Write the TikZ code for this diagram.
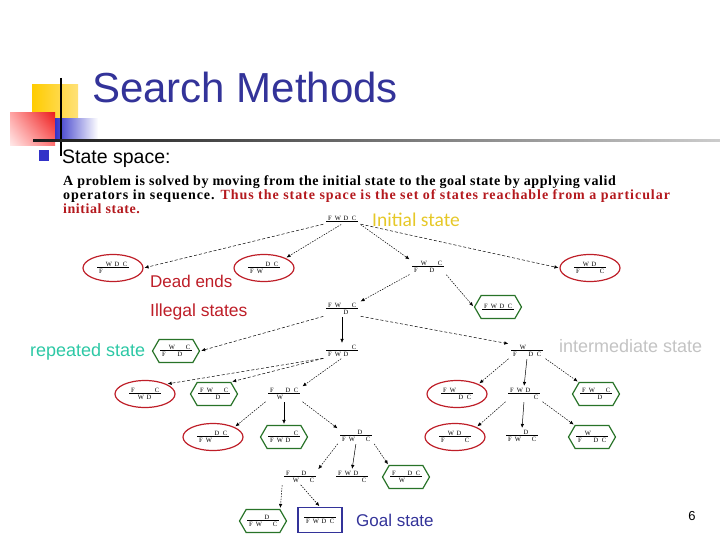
\documentclass[tikz,border=0pt]{standalone}
\usepackage{fontspec}
\setmainfont{Liberation Serif}
\setsansfont{Liberation Sans}
\newfontfamily\calib{Carlito}
\newfontfamily\parafont[LetterSpace=4]{Liberation Serif}
\newfontfamily\parafontb[LetterSpace=6.8]{Liberation Serif}
\usetikzlibrary{shapes.geometric,shapes.symbols,arrows.meta,shadings}
\definecolor{titleblue}{RGB}{51,51,153}
\definecolor{deadred}{RGB}{190,30,40}
\definecolor{hexgreen}{RGB}{40,115,40}
\definecolor{txtred}{RGB}{180,25,30}
\definecolor{goldy}{RGB}{230,200,40}
\definecolor{tealc}{RGB}{45,200,165}
\definecolor{lgray}{RGB}{195,195,195}
\definecolor{sqyel}{RGB}{255,204,0}
\definecolor{sqyel2}{RGB}{255,225,120}
\definecolor{sqred}{RGB}{235,30,30}
\definecolor{sqblue}{RGB}{50,50,200}
\newcommand{\slotb}[1]{\makebox[8pt]{#1}}
\newcommand{\fwdc}[8]{\vbox{\hbox{\slotb{#1}\slotb{#2}\slotb{#3}\slotb{#4}}\kern0.4pt\hrule height 0.9pt\kern0.8pt\hbox{\slotb{#5}\slotb{#6}\slotb{#7}\slotb{#8}}}}
\tikzset{
 st/.style={font=\fontsize{6.5}{6.5}\selectfont, inner sep=1.5pt},
 dead/.style={st, ellipse, draw=deadred, line width=1.2pt, minimum width=60pt, minimum height=27pt, inner sep=0pt},
 rep/.style={st, signal, signal to=west and east, signal pointer angle=120, draw=hexgreen, line width=1.2pt, minimum width=47pt, minimum height=23pt, inner sep=0pt},
 goalbox/.style={st, draw=titleblue, line width=1.2pt, minimum width=44pt, minimum height=25pt},
 arr/.style={-{Latex[length=4pt,width=3.5pt]}, line width=0.5pt, shorten >=1pt, shorten <=1pt},
 dsh/.style={arr, dash pattern=on 3pt off 2pt},
 dtt/.style={arr, dash pattern=on 1.5pt off 1.2pt},
 lab/.style={font=\sffamily\fontsize{17}{18}\selectfont, anchor=west, inner sep=0pt},
 para/.style={anchor=base west, inner sep=0pt, font=\parafont\bfseries\fontsize{14}{15}\selectfont},
}
\begin{document}
\begin{tikzpicture}[x=1pt,y=-1pt]
\useasboundingbox (0,0) rectangle (720,540);
% decoration
\shade[left color=sqyel, right color=sqyel2] (32,85) rectangle (78,118);
\shade[upper left=red!35, upper right=sqred, lower left=red!8, lower right=red!55] (10,113) rectangle (55,146);
\shade[left color=sqblue, right color=white] (55,119) rectangle (98,141);
\draw[line width=1.5pt] (61,78) -- (61,156);
\shade[left color=black!90, right color=black!20] (33,140) rectangle (720,142);
\node[anchor=base west, inner sep=0pt, font=\sffamily\fontsize{42}{44}\selectfont, text=titleblue] (title) at (92,103) {Search Methods};
\fill[sqblue] (39,150) rectangle (49,161);
\node[anchor=base west, inner sep=0pt, font=\sffamily\fontsize{19.5}{20}\selectfont] (ss) at (62,164) {State space:};
% paragraph
\node[para] (p1) at (63,186) {A problem is solved by moving from the initial state to the goal state by applying valid};
\node[para, font=\parafontb\bfseries\fontsize{14}{15}\selectfont] (p2) at (63,200) {operators in sequence. \textcolor{txtred}{Thus the state space is the set of states reachable from a particular}};
\node[para, text=txtred] (p3) at (63,214) {initial state.};
% states
\node[st] (init) at (342,219) {\fwdc{F}{W}{D}{C}{}{}{}{}};
\node[anchor=west, inner sep=0pt, font=\calib\fontsize{19.5}{20}\selectfont, text=goldy] (initl) at (372,220) {Initial state};
\node[dead] (a1) at (113,268) {\fwdc{}{W}{D}{C}{F}{}{}{}};
\node[dead] (a2) at (264,268) {\fwdc{}{}{D}{C}{F}{W}{}{}};
\node[st] (b) at (428,267) {\fwdc{}{W}{}{C}{F}{}{D}{}};
\node[dead] (a3) at (590,268) {\fwdc{}{W}{D}{}{F}{}{}{C}};
\node[lab, text=deadred] (dl) at (150,281) {Dead ends};
\node[st] (c) at (342,309) {\fwdc{F}{W}{}{C}{}{}{D}{}};
\node[rep] (h1) at (498,307) {\fwdc{F}{W}{D}{C}{}{}{}{}};
\node[lab, text=deadred, font=\sffamily\fontsize{17.5}{18}\selectfont] (il) at (150,312) {Illegal states};
\node[st] (d) at (342,351) {\fwdc{}{}{}{C}{F}{W}{D}{}};
\node[rep] (h2) at (176,351) {\fwdc{}{W}{}{C}{F}{}{D}{}};
\node[st] (e) at (527,351) {\fwdc{}{W}{}{}{F}{}{D}{C}};
\node[lab, text=tealc, font=\sffamily\fontsize{18}{18}\selectfont] (rl) at (30,352) {repeated state};
\node[lab, text=lgray, font=\sffamily\fontsize{18}{18}\selectfont] (ml) at (559,346) {intermediate state};
% row 3
\node[dead] (r3a) at (145,394) {\fwdc{F}{}{}{C}{}{W}{D}{}};
\node[rep] (r3b) at (214,394) {\fwdc{F}{W}{}{C}{}{}{D}{}};
\node[st] (f) at (284,394) {\fwdc{F}{}{D}{C}{}{W}{}{}};
\node[dead] (r3c) at (457,394) {\fwdc{F}{W}{}{}{}{}{D}{C}};
\node[st] (g) at (524,394) {\fwdc{F}{W}{D}{}{}{}{}{C}};
\node[rep] (r3d) at (596,394) {\fwdc{F}{W}{}{C}{}{}{D}{}};
% row 4
\node[dead] (r4a) at (213,437) {\fwdc{}{}{D}{C}{F}{W}{}{}};
\node[rep] (r4b) at (284,437) {\fwdc{}{}{}{C}{F}{W}{D}{}};
\node[st] (i) at (356,436) {\fwdc{}{}{D}{}{F}{W}{}{C}};
\node[dead] (r4c) at (455,437) {\fwdc{}{W}{D}{}{F}{}{}{C}};
\node[st] (j) at (522,436) {\fwdc{}{}{D}{}{F}{W}{}{C}};
\node[rep] (r4d) at (592,437) {\fwdc{}{W}{}{}{F}{}{D}{C}};
% row 5
\node[st] (k) at (300,477) {\fwdc{F}{}{D}{}{}{W}{}{C}};
\node[st] (l) at (352,477) {\fwdc{F}{W}{D}{}{}{}{}{C}};
\node[rep] (m) at (406,477) {\fwdc{F}{}{D}{C}{}{W}{}{}};
% row 6
\node[rep] (n) at (263,521) {\fwdc{}{}{D}{}{F}{W}{}{C}};
\node[goalbox] (goal) at (320,520) {\fwdc{}{}{}{}{F}{W}{D}{C}};
\node[lab, text=titleblue] (gl) at (356,520) {Goal state};
\node[font=\sffamily\fontsize{13}{14}\selectfont, inner sep=0pt] (pg) at (692,516) {6};
% connectors
\draw[dsh] (init.south west) -- (a1.east);
\draw[dtt] (init.south) -- (a2.north east);
\draw[dtt] (init.south east) -- (b.north west);
\draw[dsh] (init.south east) -- (a3.west);
\draw[dtt] (b.south west) -- (c.north east);
\draw[dtt] (b.south east) -- (h1.west);
\draw[dsh] (c.south west) -- (h2.east);
\draw[arr] (c.south) -- (d.north);
\draw[dsh] (c.south east) -- (e.north west);
\draw[dsh] (d.south west) -- (r3a.north east);
\draw[dsh] (d.south west) -- (r3b.north east);
\draw[dtt] (d.south) -- (f.north east);
\draw[dtt] (e.south west) -- (r3c.north east);
\draw[arr] (e.south) -- (g.north);
\draw[dtt] (e.south east) -- (r3d.north west);
\draw[dtt] (f.south west) -- (r4a.north east);
\draw[arr] (f.south) -- (r4b.north);
\draw[dtt] (f.south east) -- (i.north west);
\draw[dtt] (g.south west) -- (r4c.north east);
\draw[arr] (g.south) -- (j.north);
\draw[dtt] (g.south east) -- (r4d.north west);
\draw[dtt] (i.south west) -- (k.north east);
\draw[arr] (i.south) -- (l.north);
\draw[dtt] (i.south east) -- (m.north west);
\draw[dtt] (k.south west) -- (n.north east);
\draw[dtt] (k.south) -- (goal.north);
\end{tikzpicture}
\end{document}
